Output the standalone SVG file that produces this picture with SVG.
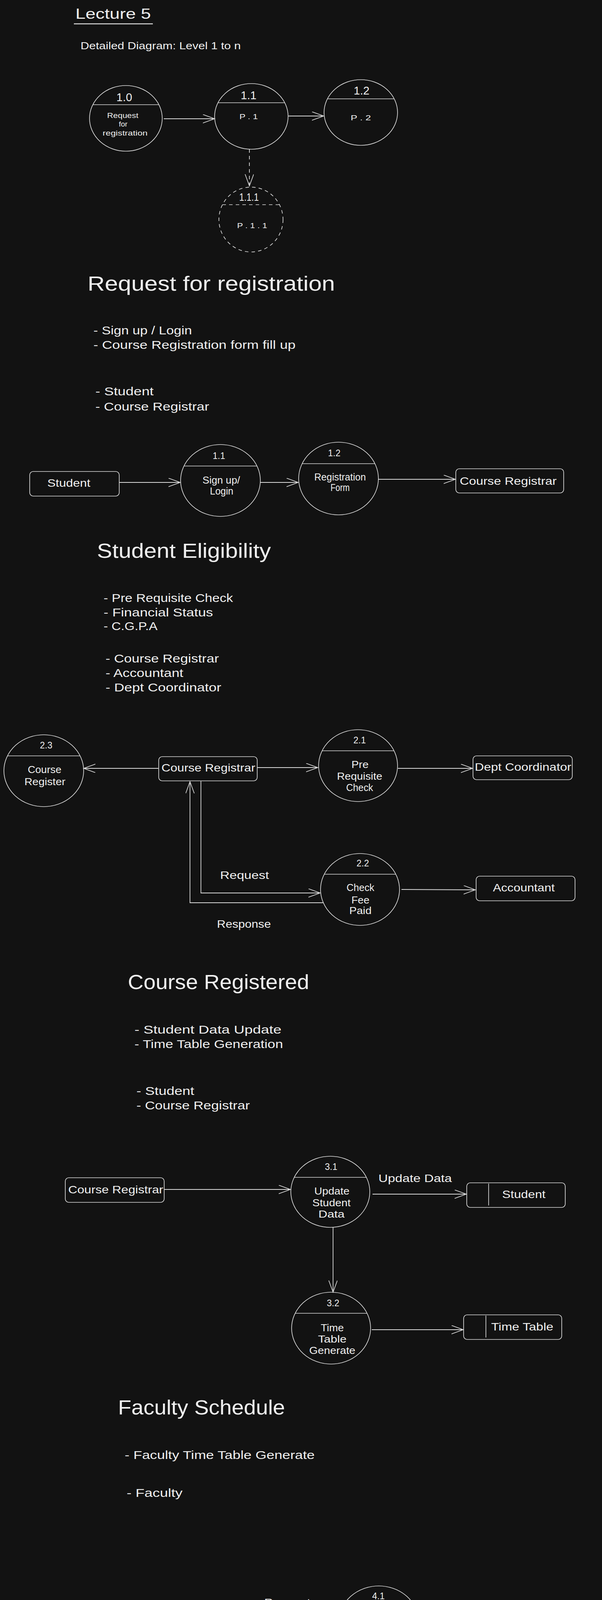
<svg xmlns="http://www.w3.org/2000/svg" width="1540" height="5430" viewBox="0 0 1540 5430">
<defs>
<style>
.sh{fill:none;stroke:#dadada;stroke-width:1.7}
.dash{stroke-dasharray:9 8}
.cn{fill:none;stroke:#dadada;stroke-width:1.8;marker-end:url(#arr)}
.t{font-family:"Liberation Sans","DejaVu Sans",sans-serif;fill:#f0f0f0}
.m{text-anchor:middle}
.h1{font-size:51px}
.ls{font-size:29px}
.bx{font-size:28px}
.nb{font-size:23px}
.bd{font-size:25px}
.lb{font-size:27px}
</style>
<marker id="arr" markerUnits="userSpaceOnUse" markerWidth="34" markerHeight="26" refX="30" refY="11" orient="auto">
<path d="M0,0 L30,11 L0,22" fill="none" stroke="#dadada" stroke-width="1.7"/>
</marker>
</defs>
<rect x="0" y="0" width="1540" height="5430" fill="#121212"/>

<g id="header">
<text class="t" x="193" y="48" font-size="37" textLength="193" lengthAdjust="spacingAndGlyphs">Lecture 5</text>
<line x1="189" y1="61" x2="391" y2="61" stroke="#dadada" stroke-width="2.5"/>
<text class="t" x="206" y="126" font-size="26" textLength="410" lengthAdjust="spacingAndGlyphs">Detailed Diagram: Level 1 to n</text>
</g>

<g id="node-1-0">
<ellipse class="sh" cx="322" cy="303" rx="93" ry="84"/>
<line class="sh" x1="237" y1="268" x2="407" y2="268"/>
<text class="t m" x="318" y="259" font-size="29">1.0</text>
<text class="t m" x="314" y="302" font-size="19" textLength="80" lengthAdjust="spacingAndGlyphs">Request</text>
<text class="t m" x="315" y="324" font-size="19">for</text>
<text class="t m" x="320" y="347" font-size="19" textLength="115" lengthAdjust="spacingAndGlyphs">registration</text>
</g>
<g id="node-1-1-top">
<ellipse class="sh" cx="643" cy="298" rx="94" ry="84"/>
<line class="sh" x1="557" y1="263" x2="729" y2="263"/>
<text class="t m" x="636" y="254" font-size="29">1.1</text>
<text class="t m" x="636" y="305" font-size="19" textLength="47" lengthAdjust="spacingAndGlyphs">P . 1</text>
</g>
<g id="node-1-2-top">
<ellipse class="sh" cx="923" cy="288" rx="94" ry="84"/>
<line class="sh" x1="837" y1="253" x2="1009" y2="253"/>
<text class="t m" x="925" y="242" font-size="29">1.2</text>
<text class="t m" x="923" y="308" font-size="19" textLength="52" lengthAdjust="spacingAndGlyphs">P . 2</text>
</g>
<g id="node-1-1-1">
<ellipse class="sh dash" cx="642" cy="562" rx="82" ry="83"/>
<line class="sh dash" x1="569" y1="524" x2="715" y2="524"/>
<text class="t m" x="637" y="514" font-size="27" textLength="50" lengthAdjust="spacingAndGlyphs">1.1.1</text>
<text class="t m" x="645" y="584" font-size="19" textLength="77" lengthAdjust="spacingAndGlyphs">P . 1 . 1</text>
</g>

<g id="sec1-text">
<text class="t h1" x="224" y="744" textLength="633" lengthAdjust="spacingAndGlyphs">Request for registration</text>
<text class="t ls" x="239" y="856" textLength="252" lengthAdjust="spacingAndGlyphs">- Sign up / Login</text>
<text class="t ls" x="239" y="893" textLength="517" lengthAdjust="spacingAndGlyphs">- Course Registration form fill up</text>
<text class="t ls" x="244" y="1012" textLength="149" lengthAdjust="spacingAndGlyphs">- Student</text>
<text class="t ls" x="244" y="1051" textLength="291" lengthAdjust="spacingAndGlyphs">- Course Registrar</text>
</g>

<g id="s1-student">
<rect class="sh" x="76" y="1207" width="229" height="63" rx="9"/>
<text class="t m bx" x="176" y="1246" textLength="110" lengthAdjust="spacingAndGlyphs">Student</text>
</g>
<g id="s1-node-1-1">
<ellipse class="sh" cx="564" cy="1230" rx="102" ry="92"/>
<line class="sh" x1="471" y1="1193" x2="657" y2="1193"/>
<text class="t m nb" x="560" y="1175">1.1</text>
<text class="t m bd" x="566" y="1238" textLength="96" lengthAdjust="spacingAndGlyphs">Sign up/</text>
<text class="t m bd" x="567" y="1266" textLength="60" lengthAdjust="spacingAndGlyphs">Login</text>
</g>
<g id="s1-node-1-2">
<ellipse class="sh" cx="866" cy="1225" rx="102" ry="93"/>
<line class="sh" x1="773" y1="1187" x2="959" y2="1187"/>
<text class="t m nb" x="855" y="1168">1.2</text>
<text class="t m bd" x="870" y="1230" textLength="132" lengthAdjust="spacingAndGlyphs">Registration</text>
<text class="t m bd" x="870" y="1257" textLength="49" lengthAdjust="spacingAndGlyphs">Form</text>
</g>
<g id="s1-course-registrar">
<rect class="sh" x="1166" y="1200" width="276" height="62" rx="9"/>
<text class="t m bx" x="1300" y="1241" textLength="248" lengthAdjust="spacingAndGlyphs">Course Registrar</text>
</g>

<g id="sec2-text">
<text class="t h1" x="248" y="1428" textLength="445" lengthAdjust="spacingAndGlyphs">Student Eligibility</text>
<text class="t ls" x="265" y="1541" textLength="331" lengthAdjust="spacingAndGlyphs">- Pre Requisite Check</text>
<text class="t ls" x="265" y="1578" textLength="280" lengthAdjust="spacingAndGlyphs">- Financial Status</text>
<text class="t ls" x="265" y="1613" textLength="138" lengthAdjust="spacingAndGlyphs">- C.G.P.A</text>
<text class="t ls" x="270" y="1696" textLength="290" lengthAdjust="spacingAndGlyphs">- Course Registrar</text>
<text class="t ls" x="270" y="1733" textLength="199" lengthAdjust="spacingAndGlyphs">- Accountant</text>
<text class="t ls" x="270" y="1770" textLength="296" lengthAdjust="spacingAndGlyphs">- Dept Coordinator</text>
</g>

<g id="s2-node-2-3">
<ellipse class="sh" cx="112" cy="1973" rx="102" ry="92"/>
<line class="sh" x1="19" y1="1935" x2="205" y2="1935"/>
<text class="t m nb" x="118" y="1916">2.3</text>
<text class="t m bd" x="114" y="1979" textLength="86" lengthAdjust="spacingAndGlyphs">Course</text>
<text class="t m bd" x="115" y="2010" textLength="105" lengthAdjust="spacingAndGlyphs">Register</text>
</g>
<g id="s2-course-registrar">
<rect class="sh" x="406" y="1937" width="252" height="62" rx="9"/>
<text class="t m bx" x="533" y="1975" textLength="240" lengthAdjust="spacingAndGlyphs">Course Registrar</text>
</g>
<g id="s2-node-2-1">
<ellipse class="sh" cx="916" cy="1960" rx="101" ry="92"/>
<line class="sh" x1="824" y1="1922" x2="1008" y2="1922"/>
<text class="t m nb" x="920" y="1903">2.1</text>
<text class="t m bd" x="921" y="1966" textLength="44" lengthAdjust="spacingAndGlyphs">Pre</text>
<text class="t m bd" x="920" y="1996" textLength="116" lengthAdjust="spacingAndGlyphs">Requisite</text>
<text class="t m bd" x="920" y="2025" textLength="69" lengthAdjust="spacingAndGlyphs">Check</text>
</g>
<g id="s2-dept-coordinator">
<rect class="sh" x="1210" y="1935" width="254" height="61" rx="9"/>
<text class="t m bx" x="1338" y="1973" textLength="247" lengthAdjust="spacingAndGlyphs">Dept Coordinator</text>
</g>
<g id="s2-node-2-2">
<ellipse class="sh" cx="921" cy="2277" rx="101" ry="92"/>
<line class="sh" x1="830" y1="2238" x2="1012" y2="2238"/>
<text class="t m nb" x="928" y="2218">2.2</text>
<text class="t m bd" x="922" y="2281" textLength="71" lengthAdjust="spacingAndGlyphs">Check</text>
<text class="t m bd" x="922" y="2313" textLength="46" lengthAdjust="spacingAndGlyphs">Fee</text>
<text class="t m bd" x="922" y="2340" textLength="57" lengthAdjust="spacingAndGlyphs">Paid</text>
</g>
<g id="s2-accountant">
<rect class="sh" x="1218" y="2243" width="253" height="63" rx="9"/>
<text class="t m bx" x="1340" y="2282" textLength="158" lengthAdjust="spacingAndGlyphs">Accountant</text>
</g>

<g id="sec3-text">
<text class="t h1" x="327" y="2532" textLength="464" lengthAdjust="spacingAndGlyphs">Course Registered</text>
<text class="t ls" x="344" y="2646" textLength="376" lengthAdjust="spacingAndGlyphs">- Student Data Update</text>
<text class="t ls" x="344" y="2683" textLength="380" lengthAdjust="spacingAndGlyphs">- Time Table Generation</text>
<text class="t ls" x="349" y="2803" textLength="148" lengthAdjust="spacingAndGlyphs">- Student</text>
<text class="t ls" x="349" y="2840" textLength="290" lengthAdjust="spacingAndGlyphs">- Course Registrar</text>
</g>

<g id="s3-course-registrar">
<rect class="sh" x="167" y="3015" width="253" height="63" rx="9"/>
<text class="t m bx" x="296" y="3055" textLength="243" lengthAdjust="spacingAndGlyphs">Course Registrar</text>
</g>
<g id="s3-node-3-1">
<ellipse class="sh" cx="845" cy="3051" rx="101" ry="91"/>
<line class="sh" x1="753" y1="3014" x2="937" y2="3014"/>
<text class="t m nb" x="847" y="2995">3.1</text>
<text class="t m bd" x="849" y="3058" textLength="90" lengthAdjust="spacingAndGlyphs">Update</text>
<text class="t m bd" x="848" y="3088" textLength="98" lengthAdjust="spacingAndGlyphs">Student</text>
<text class="t m bd" x="848" y="3117" textLength="67" lengthAdjust="spacingAndGlyphs">Data</text>
</g>
<g id="s3-store-student">
<rect class="sh" x="1194" y="3028" width="252" height="63" rx="9"/>
<line class="sh" x1="1250" y1="3030" x2="1250" y2="3086"/>
<text class="t m bx" x="1340" y="3067" textLength="111" lengthAdjust="spacingAndGlyphs">Student</text>
</g>
<g id="s3-node-3-2">
<ellipse class="sh" cx="847" cy="3400" rx="101" ry="92"/>
<line class="sh" x1="755" y1="3362" x2="939" y2="3362"/>
<text class="t m nb" x="852" y="3344">3.2</text>
<text class="t m bd" x="850" y="3408" textLength="59" lengthAdjust="spacingAndGlyphs">Time</text>
<text class="t m bd" x="850" y="3437" textLength="73" lengthAdjust="spacingAndGlyphs">Table</text>
<text class="t m bd" x="850" y="3466" textLength="118" lengthAdjust="spacingAndGlyphs">Generate</text>
</g>
<g id="s3-store-timetable">
<rect class="sh" x="1186" y="3366" width="251" height="63" rx="9"/>
<line class="sh" x1="1243" y1="3368" x2="1243" y2="3424"/>
<text class="t m bx" x="1336" y="3406" textLength="159" lengthAdjust="spacingAndGlyphs">Time Table</text>
</g>

<g id="sec4-text">
<text class="t h1" x="302" y="3621" textLength="427" lengthAdjust="spacingAndGlyphs">Faculty Schedule</text>
<text class="t ls" x="319" y="3735" textLength="486" lengthAdjust="spacingAndGlyphs">- Faculty Time Table Generate</text>
<text class="t ls" x="324" y="3832" textLength="143" lengthAdjust="spacingAndGlyphs">- Faculty</text>
</g>

<g id="s4-faculty">
<rect class="sh" x="383" y="4120" width="254" height="63" rx="9"/>
<text class="t m bx" x="507" y="4160" textLength="106" lengthAdjust="spacingAndGlyphs">Faculty</text>
</g>
<g id="s4-node-4-1">
<ellipse class="sh" cx="969" cy="4152" rx="102" ry="92"/>
<line class="sh" x1="877" y1="4112" x2="1061" y2="4112"/>
<text class="t m nb" x="968" y="4094">4.1</text>
<text class="t m bd" x="970" y="4157" textLength="59" lengthAdjust="spacingAndGlyphs">Time</text>
<text class="t m bd" x="970" y="4187" textLength="74" lengthAdjust="spacingAndGlyphs">Table</text>
<text class="t m bd" x="971" y="4217" textLength="115" lengthAdjust="spacingAndGlyphs">Generate</text>
</g>
<g id="s4-store-timetable">
<rect class="sh" x="1277" y="4113" width="252" height="62" rx="9"/>
<line class="sh" x1="1333" y1="4115" x2="1333" y2="4170"/>
<text class="t m bx" x="1428" y="4152" textLength="159" lengthAdjust="spacingAndGlyphs">Time Table</text>
</g>

<g id="sec5-text">
<text class="t h1" x="280" y="4424" textLength="442" lengthAdjust="spacingAndGlyphs">Student Schedule</text>
<text class="t ls" x="295" y="4537" textLength="358" lengthAdjust="spacingAndGlyphs">- Time Table Generate</text>
<text class="t ls" x="295" y="4574" textLength="520" lengthAdjust="spacingAndGlyphs">- Forward Time Table to Student</text>
<text class="t ls" x="303" y="4635" textLength="147" lengthAdjust="spacingAndGlyphs">- Student</text>
<text class="t ls" x="303" y="4672" textLength="398" lengthAdjust="spacingAndGlyphs">- Department Coordinator</text>
</g>

<g id="s5-dept-coordinator">
<rect class="sh" x="342" y="4822" width="201" height="92" rx="12"/>
<text class="t m bx" x="442" y="4861" textLength="163" lengthAdjust="spacingAndGlyphs">Department</text>
<text class="t m bx" x="442" y="4893" textLength="163" lengthAdjust="spacingAndGlyphs">Coordinator</text>
</g>
<g id="s5-node-5-1">
<ellipse class="sh" cx="884" cy="4847" rx="101" ry="92"/>
<line class="sh" x1="792" y1="4809" x2="976" y2="4809"/>
<text class="t m nb" x="882" y="4792">5.1</text>
<text class="t m bd" x="888" y="4853" textLength="56" lengthAdjust="spacingAndGlyphs">Time</text>
<text class="t m bd" x="887" y="4884" textLength="72" lengthAdjust="spacingAndGlyphs">Table</text>
<text class="t m bd" x="889" y="4912" textLength="118" lengthAdjust="spacingAndGlyphs">Generate</text>
</g>
<g id="s5-store-student">
<rect class="sh" x="1189" y="4813" width="251" height="62" rx="9"/>
<line class="sh" x1="1245" y1="4815" x2="1245" y2="4870"/>
<text class="t m bx" x="1330" y="4849" textLength="111" lengthAdjust="spacingAndGlyphs">Student</text>
</g>
<g id="s5-node-5-2">
<ellipse class="sh" cx="886" cy="5102" rx="101" ry="92"/>
<line class="sh" x1="794" y1="5065" x2="978" y2="5065"/>
<text class="t m nb" x="890" y="5046">5.2</text>
<text class="t m bd" x="886" y="5106" textLength="95" lengthAdjust="spacingAndGlyphs">Forward</text>
<text class="t m bd" x="885" y="5135" textLength="96" lengthAdjust="spacingAndGlyphs">Student</text>
<text class="t m bd" x="886" y="5165" textLength="135" lengthAdjust="spacingAndGlyphs">Time Table</text>
</g>
<g id="s5-student">
<rect class="sh" x="778" y="5359" width="251" height="62" rx="9"/>
<text class="t m bx" x="906" y="5395" textLength="111" lengthAdjust="spacingAndGlyphs">Student</text>
</g>

<g id="connectors">
<line class="cn" x1="419" y1="304" x2="549" y2="304"/>
<line class="cn" x1="738" y1="297" x2="828" y2="297"/>
<line class="cn dash" x1="638" y1="382" x2="638" y2="476"/>
<line class="cn" x1="305" y1="1235" x2="461" y2="1235"/>
<line class="cn" x1="666" y1="1235" x2="763" y2="1235"/>
<line class="cn" x1="968" y1="1227" x2="1165" y2="1227"/>
<line class="cn" x1="405" y1="1967" x2="214" y2="1967"/>
<line class="cn" x1="658" y1="1965" x2="813" y2="1965"/>
<line class="cn" x1="1018" y1="1967" x2="1209" y2="1967"/>
<path class="cn" d="M514,2000 V2286 H819"/>
<path class="cn" d="M828,2311 H486 V2001"/>
<line class="cn" x1="1027" y1="2277" x2="1216" y2="2278"/>
<line class="cn" x1="420" y1="3045" x2="743" y2="3045"/>
<line class="cn" x1="953" y1="3057" x2="1193" y2="3057"/>
<line class="cn" x1="852" y1="3142" x2="852" y2="3308"/>
<line class="cn" x1="951" y1="3404" x2="1185" y2="3404"/>
<line class="cn" x1="637" y1="4153" x2="866" y2="4153"/>
<line class="cn" x1="1071" y1="4139" x2="1276" y2="4139"/>
<line class="cn" x1="543" y1="4859" x2="782" y2="4852"/>
<line class="cn" x1="989" y1="4840" x2="1188" y2="4840"/>
<line class="cn" x1="888" y1="4941" x2="888" y2="5008"/>
<line class="cn" x1="891" y1="5216" x2="891" y2="5358"/>
</g>

<g id="connector-labels">
<text class="t lb" x="563" y="2250" textLength="125" lengthAdjust="spacingAndGlyphs">Request</text>
<text class="t lb" x="555" y="2375" textLength="138" lengthAdjust="spacingAndGlyphs">Response</text>
<text class="t lb" x="968" y="3026" textLength="188" lengthAdjust="spacingAndGlyphs">Update Data</text>
<text class="t lb" x="676" y="4112" textLength="118" lengthAdjust="spacingAndGlyphs">Request</text>
<text class="t lb" x="673" y="4201" textLength="162" lengthAdjust="spacingAndGlyphs">Time Table</text>
<text class="t lb" x="674" y="4235" textLength="151" lengthAdjust="spacingAndGlyphs">Generated</text>
</g>
</svg>
